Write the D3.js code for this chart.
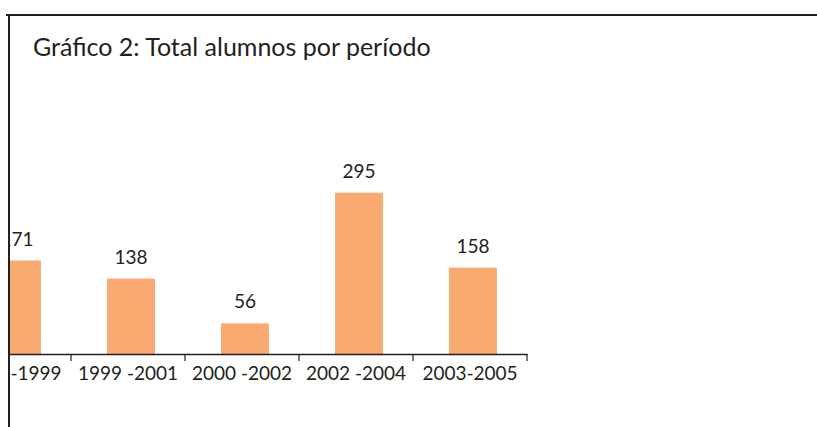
<!DOCTYPE html>
<html>
<head>
<meta charset="utf-8">
<script src="https://cdn.jsdelivr.net/npm/d3@7"></script>
<style>
  body { margin: 0; background: #fff; }
  text { font-family: Lato, "Open Sans", sans-serif; fill: #231f20; }
</style>
</head>
<body>
<div id="chart-area"></div>
<script>
var w = 817;
var h = 427;

// data
const periodos = ["1997-1999", "1999 -2001", "2000 -2002", "2002 -2004", "2003-2005"];
const alumnos = [171, 138, 56, 295, 158];
const titulo = "Gráfico 2: Total alumnos por período";

const baseY = 354;
const frameX = 9;

var svg = d3.select("#chart-area").append("svg")
    .attr("width", w)
    .attr("height", h);

// frame (top + left only, chart is cut off on the left)
svg.append("line")
    .attr("x1", 6).attr("x2", w)
    .attr("y1", 15).attr("y2", 15)
    .attr("stroke", "#231f20").attr("stroke-width", 2);
svg.append("line")
    .attr("x1", frameX).attr("x2", frameX)
    .attr("y1", 15).attr("y2", h)
    .attr("stroke", "#231f20").attr("stroke-width", 2);

svg.append("text")
    .attr("x", 33)
    .attr("y", 56)
    .style("font-size", "25px")
    .text(titulo);

svg.append("clipPath").attr("id", "clip")
  .append("rect")
    .attr("x", frameX + 1).attr("y", 0)
    .attr("width", w).attr("height", h);

var x = d3.scaleBand()
    .domain(periodos)
    .range([-43, 527])
    .padding(0);

var y = d3.scaleLinear()
    .domain([0, 300])
    .range([baseY, baseY - 164]);

var barW = x.bandwidth() * 0.42;

const g = svg.append("g").attr("clip-path", "url(#clip)");

g.selectAll("rect")
    .data(alumnos)
    .enter().append("rect")
    .attr("fill", "#f8aa70")
    .attr("x", (d, i) => x(periodos[i]) + x.bandwidth() / 2 - barW / 2 + 3)
    .attr("y", d => y(d))
    .attr("width", barW)
    .attr("height", d => baseY - y(d));

g.selectAll("text.val")
    .data(alumnos)
    .enter().append("text")
    .attr("class", "val")
    .attr("text-anchor", "middle")
    .attr("x", (d, i) => x(periodos[i]) + x.bandwidth() / 2 + 3)
    .attr("y", d => y(d) - 15)
    .style("font-size", "19px")
    .text(d => d);

// axis
var axis = g.append("g")
    .attr("transform", "translate(0," + baseY + ")")
    .call(d3.axisBottom(x).tickSize(0).tickPadding(13));
axis.select(".domain").attr("stroke", "#231f20").attr("stroke-width", 1.5);
axis.selectAll("text")
    .style("font-size", "19px")
    .style("font-family", "Lato, 'Open Sans', sans-serif")
    .attr("fill", "#231f20")
    .attr("dy", "0.71em");

// ticks between categories
g.selectAll("line.sep")
    .data(periodos)
    .enter().append("line")
    .attr("class", "sep")
    .attr("x1", d => x(d) + x.bandwidth())
    .attr("x2", d => x(d) + x.bandwidth())
    .attr("y1", baseY)
    .attr("y2", baseY + 7)
    .attr("stroke", "#231f20")
    .attr("stroke-width", 1.2);
</script>
</body>
</html>
